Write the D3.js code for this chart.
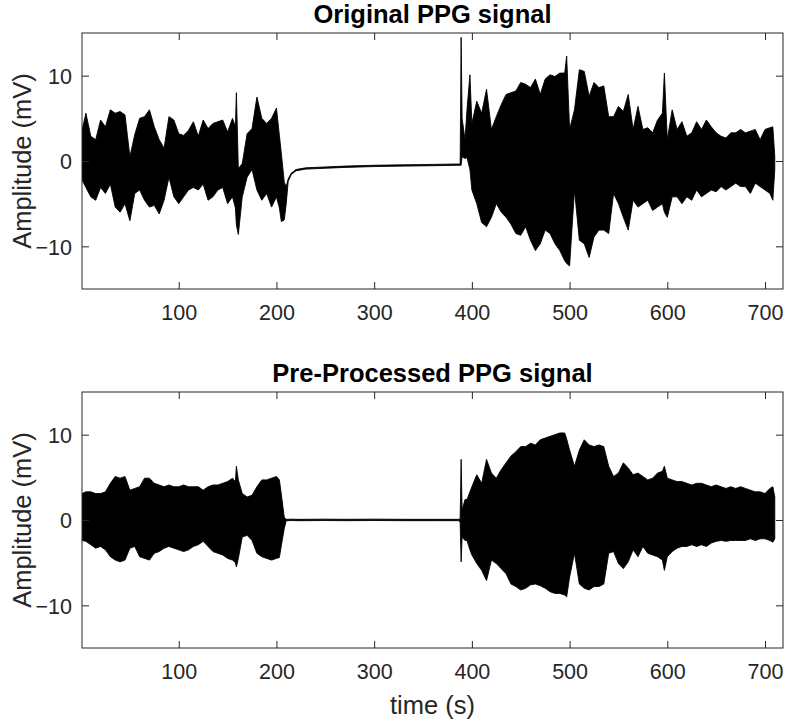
<!DOCTYPE html>
<html>
<head>
<meta charset="utf-8">
<script src="https://cdn.jsdelivr.net/npm/d3@7"></script>
<style>
  body { margin: 0; background: #fff; }
  svg { display: block; font-family: "Liberation Sans", Arial, Helvetica, sans-serif; }
</style>
</head>
<body>
<svg id="chart" width="785" height="723"></svg>
<script>
// Envelope of the PPG traces (seconds, mV)
const time = [1, 5, 10, 15, 20, 25, 30, 35, 40, 45, 50, 55, 60, 65, 70, 75, 80, 85, 90, 95,
  100, 105, 110, 115, 120, 125, 130, 135, 140, 145, 150, 155, 158, 159, 161, 165, 170, 175, 180, 185,
  190, 195, 200, 203, 205, 208, 210, 212, 215, 220, 230, 250, 270, 300, 330, 360, 387, 388, 389, 390,
  393, 395, 398, 400, 405, 410, 415, 420, 425, 430, 435, 440, 445, 450, 455, 460, 465, 470, 475, 480,
  485, 490, 495, 497, 500, 505, 510, 515, 520, 525, 530, 535, 540, 545, 550, 555, 560, 565, 570, 575,
  580, 585, 590, 595, 597, 600, 605, 610, 615, 620, 625, 630, 635, 640, 645, 650, 655, 660, 665, 670,
  675, 680, 685, 690, 695, 700, 705, 708, 710];

// Original signal: upper / lower envelope
const origHi = [3.6, 5.6, 2.9, 2.5, 4.8, 4.0, 6.0, 5.6, 5.8, 5.4, 0.5, 3.1, 5.0, 5.2, 6.0, 4.0, 2.5, 1.5, 5.2, 4.8,
  3.2, 3.0, 3.6, 4.6, 2.9, 4.8, 3.8, 4.4, 4.6, 4.8, 3.4, 5.0, 4.0, 8.0, -0.9, -0.3, 3.2, 3.8, 7.5, 5.0,
  4.4, 5.0, 6.2, 3.0, 0.9, -2.5, -3.0, -2.1, -1.45, -1.0, -0.8, -0.7, -0.6, -0.5, -0.45, -0.4, -0.35, -0.35, 14.5, 5.0,
  2.5, 6.0, 10.1, 4.4, 7.0, 5.6, 8.4, 3.7, 5.2, 6.6, 7.8, 8.0, 8.2, 9.2, 9.0, 8.6, 9.6, 7.8, 9.6, 10.1,
  9.9, 10.3, 10.3, 12.3, 3.7, 6.0, 10.7, 10.5, 7.6, 9.2, 8.6, 8.8, 5.2, 5.2, 6.4, 5.8, 7.8, 3.7, 6.4, 3.7,
  3.9, 3.3, 4.8, 5.6, 10.3, 2.5, 6.0, 3.7, 4.6, 2.9, 3.3, 4.6, 3.7, 4.8, 4.0, 3.3, 2.9, 2.7, 3.3, 3.3,
  3.7, 3.3, 3.5, 3.7, 2.5, 3.7, 3.9, 4.0, 0.5];
const origLo = [-2.2, -3.1, -4.2, -4.6, -3.1, -3.8, -2.7, -5.4, -6.0, -5.0, -7.0, -3.8, -3.4, -4.6, -5.4, -5.2, -6.2, -4.6, -1.9, -4.2,
  -5.0, -4.2, -3.4, -3.1, -3.4, -2.7, -4.6, -4.2, -3.4, -3.1, -5.0, -4.2, -5.5, -7.5, -8.6, -4.2, -1.9, -1.0, -3.4, -4.6,
  -3.8, -5.4, -4.2, -5.5, -7.1, -6.9, -5.0, -2.4, -1.6, -1.15, -0.95, -0.85, -0.75, -0.65, -0.6, -0.55, -0.5, -0.5, -0.5, 0.5,
  0.3, 0.4, -1.0, -3.4, -5.0, -7.2, -7.7, -6.6, -5.0, -6.0, -6.6, -7.4, -8.5, -8.7, -7.7, -9.3, -10.5, -9.7, -8.1, -8.5,
  -9.7, -10.5, -11.7, -12.0, -12.3, -3.4, -9.3, -9.7, -11.3, -8.9, -8.1, -8.1, -8.5, -3.8, -5.0, -6.6, -8.1, -4.6, -5.4, -5.0,
  -4.6, -5.8, -5.4, -5.0, -6.0, -6.6, -4.2, -4.2, -5.0, -4.2, -4.6, -3.4, -4.2, -3.8, -3.4, -3.6, -3.0, -3.4, -3.0, -2.6,
  -3.0, -3.0, -3.8, -2.6, -3.0, -3.4, -3.8, -4.6, -1.0];

// Pre-processed signal: upper / lower envelope
const procHi = [3.1, 3.3, 3.3, 3.1, 3.1, 3.3, 4.3, 5.1, 4.9, 5.1, 3.5, 3.7, 3.9, 4.9, 4.9, 4.3, 4.1, 3.9, 4.1, 3.9,
  3.9, 4.1, 3.9, 3.9, 3.9, 3.5, 3.9, 4.1, 4.1, 4.3, 4.5, 4.9, 4.5, 6.3, 4.7, 3.1, 2.7, 2.9, 3.9, 4.7,
  4.7, 4.9, 5.1, 4.7, 3.0, 0.3, 0.08, 0.08, 0.1, 0.08, 0.08, 0.1, 0.08, 0.1, 0.08, 0.08, 0.08, 0.2, 7.1, 1.2,
  2.4, 2.4, 3.3, 3.9, 5.3, 4.3, 7.1, 5.5, 4.9, 5.9, 6.7, 7.5, 8.0, 8.6, 8.6, 9.0, 8.8, 9.4, 9.6, 9.8,
  10.0, 10.2, 10.2, 9.5, 8.2, 6.3, 8.2, 9.4, 8.8, 8.6, 8.8, 8.6, 6.3, 5.1, 5.5, 6.7, 6.1, 5.3, 5.5, 5.1,
  4.7, 4.9, 5.5, 5.7, 6.3, 4.9, 4.7, 4.5, 4.5, 4.3, 4.1, 4.3, 4.3, 4.1, 3.9, 4.1, 3.9, 3.7, 3.9, 3.7,
  3.9, 3.7, 3.5, 3.3, 3.3, 3.1, 3.7, 3.9, 2.7];
const procLo = [-2.4, -2.5, -2.9, -3.3, -3.1, -3.5, -4.3, -4.7, -4.9, -4.7, -3.3, -3.1, -4.3, -4.5, -4.7, -3.9, -3.7, -3.3, -3.1, -3.3,
  -3.5, -3.7, -3.5, -3.1, -2.9, -2.5, -3.1, -3.7, -3.9, -4.1, -4.5, -4.7, -5.0, -5.5, -4.5, -2.0, -1.8, -2.4, -3.9, -4.3,
  -4.5, -4.7, -4.5, -4.4, -3.0, -1.0, -0.08, -0.08, -0.06, -0.08, -0.08, -0.06, -0.08, -0.06, -0.08, -0.08, -0.08, -0.3, -4.9, -2.0,
  -2.4, -2.4, -3.5, -4.1, -5.1, -5.9, -7.1, -4.7, -5.1, -5.7, -6.3, -7.5, -7.8, -8.2, -8.0, -7.6, -7.5, -7.7, -8.0, -8.4,
  -8.6, -8.6, -8.8, -9.0, -6.7, -3.9, -7.5, -8.0, -8.2, -7.8, -7.8, -7.5, -3.9, -3.7, -5.1, -5.7, -4.9, -3.5, -4.3, -3.1,
  -3.9, -4.1, -4.3, -4.7, -5.9, -4.3, -3.7, -3.3, -3.1, -3.1, -2.9, -3.1, -2.9, -3.1, -2.7, -2.5, -2.4, -2.5, -2.4, -2.4,
  -2.4, -2.4, -2.2, -2.4, -2.2, -2.2, -2.4, -2.6, -2.2];

const xTicks = [100, 200, 300, 400, 500, 600, 700];
const yTicks = [-10, 0, 10];

const panels = [
  {title: "Original PPG signal", hi: origHi, lo: origLo, top: 33},
  {title: "Pre-Processed PPG signal", hi: procHi, lo: procLo, top: 392}
];

const svg = d3.select("#chart");
const left = 82, right = 783, plotH = 256;
const axisColor = "#262626";

const x = d3.scaleLinear().domain([1, 718.4]).range([left, right]);

panels.forEach((p, i) => {
  const y = d3.scaleLinear().domain([-15, 15]).range([p.top + plotH, p.top]);
  const g = svg.append("g");

  g.append("clipPath").attr("id", "clip" + i)
    .append("rect").attr("x", left).attr("y", p.top)
    .attr("width", right - left).attr("height", plotH);

  // the trace, drawn as the band between its envelopes
  const area = d3.area()
    .x((d, j) => x(time[j]))
    .y0((d, j) => y(p.lo[j]))
    .y1((d, j) => y(p.hi[j]));

  g.append("path")
    .datum(time)
    .attr("clip-path", `url(#clip${i})`)
    .attr("d", area)
    .attr("fill", "#000")
    .attr("stroke", "#000")
    .attr("stroke-width", 0.9)
    .attr("stroke-linejoin", "round");

  // axes, ticks inside, box on
  const tickLen = 7;
  const bottomAxis = g.append("g")
    .attr("transform", `translate(0,${p.top + plotH})`)
    .call(d3.axisBottom(x).tickValues(xTicks).tickSizeInner(-tickLen).tickSizeOuter(0).tickPadding(16));
  const topAxis = g.append("g")
    .attr("transform", `translate(0,${p.top})`)
    .call(d3.axisTop(x).tickValues(xTicks).tickSizeInner(-tickLen).tickSizeOuter(0).tickFormat(""));
  const leftAxis = g.append("g")
    .attr("transform", `translate(${left},0)`)
    .call(d3.axisLeft(y).tickValues(yTicks).tickSizeInner(-tickLen).tickSizeOuter(0).tickPadding(10));
  const rightAxis = g.append("g")
    .attr("transform", `translate(${right},0)`)
    .call(d3.axisRight(y).tickValues(yTicks).tickSizeInner(-tickLen).tickSizeOuter(0).tickFormat(""));

  [bottomAxis, topAxis, leftAxis, rightAxis].forEach(a => {
    a.select(".domain").remove();
    a.selectAll("line").attr("stroke", axisColor);
    a.selectAll("text").attr("fill", axisColor).style("font-size", "21.5px")
      .style("font-family", '"Liberation Sans", Arial, sans-serif');
  });
  leftAxis.selectAll("text").attr("dy", "0.36em");

  g.append("rect")
    .attr("x", left).attr("y", p.top)
    .attr("width", right - left).attr("height", plotH)
    .attr("fill", "none").attr("stroke", axisColor).attr("stroke-width", 1);

  g.append("text")
    .attr("x", (left + right) / 2).attr("y", p.top - 10.5)
    .attr("text-anchor", "middle")
    .style("font-size", "25.5px").style("font-weight", "bold")
    .text(p.title);

  g.append("text")
    .attr("transform", `translate(30.5,${p.top + plotH / 2}) rotate(-90)`)
    .attr("text-anchor", "middle")
    .attr("fill", axisColor)
    .style("font-size", "25.5px")
    .text("Amplitude (mV)");
});

svg.append("text")
  .attr("x", (left + right) / 2).attr("y", 714)
  .attr("text-anchor", "middle")
  .attr("fill", axisColor)
  .style("font-size", "25.5px")
  .text("time (s)");
</script>
</body>
</html>
